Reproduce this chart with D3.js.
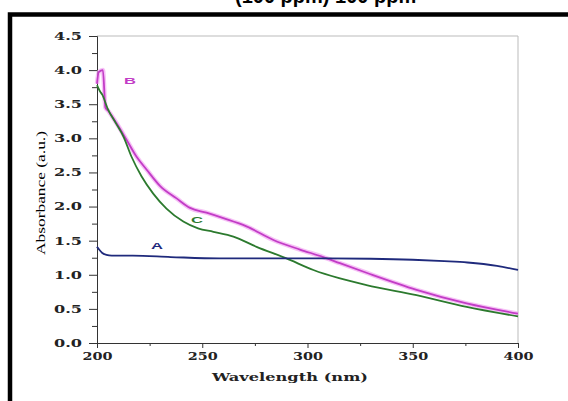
<!DOCTYPE html>
<html>
<head>
<meta charset="utf-8">
<script src="https://cdn.jsdelivr.net/npm/d3@7"></script>
<style>
  body { margin: 0; background: #fff; }
  svg { display: block; }
</style>
</head>
<body>
<div id="chart"></div>
<script>
// Datos
const wlA = [200, 201, 202.5, 204.5, 207, 217, 235, 258, 290, 310, 330, 350, 365, 376, 390, 400];
const absA = [1.41, 1.37, 1.32, 1.29, 1.28, 1.28, 1.26, 1.24, 1.24, 1.24, 1.235, 1.22, 1.20, 1.18, 1.13, 1.07];

const wlB = [200, 200.8, 202.8, 204, 205.4, 209.3, 214, 218.8, 223.6, 230, 237.8, 244.2, 252, 260, 271, 283.8, 296.4, 307.5, 315.4, 328, 351.8, 375.6, 400];
const absB = [3.80, 3.97, 4.00, 3.45, 3.40, 3.22, 2.98, 2.73, 2.54, 2.30, 2.12, 1.98, 1.91, 1.83, 1.71, 1.51, 1.37, 1.26, 1.17, 1.03, 0.78, 0.58, 0.43];

const wlC = [200, 201.4, 202.5, 205, 209, 212.5, 216.4, 221.2, 226.7, 233, 241, 248, 255.3, 264.8, 275.8, 290, 302.8, 315, 328, 351.8, 375.6, 400];
const absC = [3.78, 3.69, 3.64, 3.44, 3.22, 3.03, 2.73, 2.44, 2.19, 1.97, 1.78, 1.68, 1.63, 1.56, 1.41, 1.24, 1.07, 0.95, 0.85, 0.70, 0.53, 0.39];

const xTicks = [200, 250, 300, 350, 400];
const yTicks = [0, 0.5, 1, 1.5, 2, 2.5, 3, 3.5, 4, 4.5];
const seriesNames = ["A", "B", "C"];

const width = 568;
const height = 401;
const plotLeft = 97, plotRight = 518, plotTop = 36, plotBottom = 343;

const x = d3.scaleLinear().domain([200, 400]).range([plotLeft, plotRight]);
const y = d3.scaleLinear().domain([0, 4.5]).range([plotBottom, plotTop]);

const svg = d3.select("#chart")
    .append("svg")
    .attr("width", width)
    .attr("height", height);

// Título cortado arriba (sólo asoma la parte baja)
svg.append("text")
    .attr("x", 235)
    .attr("y", 2.5)
    .attr("font-family", "Liberation Sans")
    .attr("font-weight", "bold")
    .attr("font-size", 20)
    .text("(100 ppm) 100 ppm");

// Marco negro
svg.append("path")
    .attr("d", `M10,${height + 5} L10,14.5 L${width + 5},14.5`)
    .attr("fill", "none")
    .attr("stroke", "#000")
    .attr("stroke-width", 4.5);

// Borde gris del área de trazado
svg.append("path")
    .attr("d", `M${plotLeft},${plotTop} L${plotRight},${plotTop} L${plotRight},${plotBottom}`)
    .attr("fill", "none")
    .attr("stroke", "#bbb")
    .attr("stroke-width", 1);

// Ejes
const axisColor = "#333";

const yMinor = svg.append("g")
    .attr("transform", `translate(${plotLeft},0)`)
    .call(d3.axisLeft(y).tickValues(yTicks.slice(0, -1).map(v => v + 0.25)).tickSize(5).tickFormat(""));
yMinor.select(".domain").remove();

const yAxis = svg.append("g")
    .attr("transform", `translate(${plotLeft},0)`)
    .call(d3.axisLeft(y).tickValues(yTicks).tickSize(8).tickPadding(7).tickFormat(d3.format(".1f")));

const xMinor = svg.append("g")
    .attr("transform", `translate(0,${plotBottom})`)
    .call(d3.axisBottom(x).tickValues([225, 275, 325, 375]).tickSize(3).tickFormat(""));
xMinor.select(".domain").remove();

const xAxis = svg.append("g")
    .attr("transform", `translate(0,${plotBottom})`)
    .call(d3.axisBottom(x).tickValues(xTicks).tickSize(5).tickPadding(5).tickFormat(d3.format("d")));

svg.selectAll(".domain, .tick line")
    .attr("stroke", axisColor);

yAxis.selectAll(".tick text")
    .attr("font-family", "DejaVu Serif")
    .attr("font-weight", "bold")
    .attr("font-size", 10.5)
    .attr("fill", "#222")
    .attr("textLength", 28)
    .attr("lengthAdjust", "spacingAndGlyphs");

xAxis.selectAll(".tick text")
    .attr("font-family", "DejaVu Serif")
    .attr("font-weight", "bold")
    .attr("font-size", 10.5)
    .attr("fill", "#222")
    .attr("textLength", 30)
    .attr("lengthAdjust", "spacingAndGlyphs");

// Títulos de ejes
svg.append("text")
    .attr("transform", "translate(45,193) rotate(-90)")
    .attr("text-anchor", "middle")
    .attr("font-family", "Liberation Serif")
    .attr("font-size", 13.5)
    .attr("textLength", 124)
    .attr("lengthAdjust", "spacingAndGlyphs")
    .text("Absorbance (a.u.)");

svg.append("text")
    .attr("x", 290)
    .attr("y", 381)
    .attr("text-anchor", "middle")
    .attr("font-family", "DejaVu Serif")
    .attr("font-weight", "bold")
    .attr("font-size", 11)
    .attr("fill", "#222")
    .attr("textLength", 156)
    .attr("lengthAdjust", "spacingAndGlyphs")
    .text("Wavelength (nm)");

// Curvas
const line = d3.line()
    .x(d => x(d[0]))
    .y(d => y(d[1]))
    .curve(d3.curveMonotoneX);

const series = [
    { name: seriesNames[0], wl: wlA, abs: absA, color: "#1f2a7c", glow: null },
    { name: seriesNames[1], wl: wlB, abs: absB, color: "#c23cc6", glow: "#f2a6f2" },
    { name: seriesNames[2], wl: wlC, abs: absC, color: "#2c7a2e", glow: null }
];

// B primero con su halo, luego C y A encima
[series[1], series[2], series[0]].forEach(function(s) {
    const pts = s.wl.map((w, i) => [w, s.abs[i]]);
    if (s.glow) {
        svg.append("path")
            .attr("d", line(pts))
            .attr("fill", "none")
            .attr("stroke", s.glow)
            .attr("stroke-width", 4.5)
            .attr("opacity", 0.7);
    }
    svg.append("path")
        .attr("d", line(pts))
        .attr("fill", "none")
        .attr("stroke", s.color)
        .attr("stroke-width", 1.8)
        .attr("stroke-linejoin", "round");
});

// Etiquetas de curvas
const labelPos = { A: [151, 249], B: [124, 84], C: [191, 223] };
series.forEach(function(s) {
    svg.append("text")
        .attr("x", labelPos[s.name][0])
        .attr("y", labelPos[s.name][1])
        .attr("font-family", "Liberation Sans")
        .attr("font-weight", "bold")
        .attr("font-size", 9.5)
        .attr("fill", s.color)
        .attr("textLength", 12)
        .attr("lengthAdjust", "spacingAndGlyphs")
        .text(s.name);
});
</script>
</body>
</html>
